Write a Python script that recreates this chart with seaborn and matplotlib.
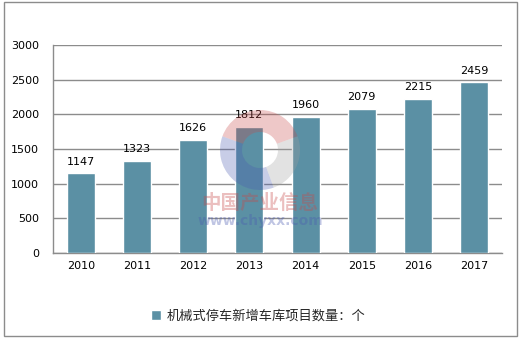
import matplotlib
matplotlib.use("Agg")
import matplotlib.pyplot as plt
import seaborn as sns
import pandas as pd
from matplotlib.patches import Rectangle, Wedge

years = ["2010", "2011", "2012", "2013", "2014", "2015", "2016", "2017"]
values = [1147, 1323, 1626, 1812, 1960, 2079, 2215, 2459]
series_label = "机械式停车新增车库项目数量：个"
yticks = [0, 500, 1000, 1500, 2000, 2500, 3000]

sns.set_style("white")
plt.rcParams['font.family'] = ['DejaVu Sans', 'Noto Sans CJK SC']

bar_color = "#5B90A4"
grid_color = "#8C8C8C"

df = pd.DataFrame({"year": years, "value": values})

fig = plt.figure(figsize=(5.2, 3.39), dpi=100)
ax = fig.add_axes([0.1019, 0.2537, 0.8635, 0.6136])

sns.barplot(data=df, x="year", y="value", color=bar_color, width=0.5,
            saturation=1, label=series_label, ax=ax, zorder=3)

ax.set_ylim(0, 3000)
ax.set_yticks(yticks)
ax.set_xlim(-0.5, len(years) - 0.5)
ax.yaxis.grid(True, color=grid_color, linewidth=1)
ax.set_axisbelow(True)
ax.set_xlabel("")
ax.set_ylabel("")
for s in ["top", "right"]:
    ax.spines[s].set_visible(False)
for s in ["left", "bottom"]:
    ax.spines[s].set_color(grid_color)
    ax.spines[s].set_linewidth(1)
ax.tick_params(axis="both", length=0, labelsize=8, colors="black", pad=6)
ax.tick_params(axis="y", pad=10)

for i, v in enumerate(values):
    ax.annotate(str(v), (i, v), xytext=(0, 5), textcoords="offset points",
                ha="center", va="bottom", fontsize=8, color="black")

# watermark logo (faint)
wax = fig.add_axes([220 / 520, 1 - 190 / 339, 80 / 520, 80 / 339], zorder=5)
wax.set_xlim(-1, 1)
wax.set_ylim(-1, 1)
wax.axis("off")
wax.patch.set_alpha(0)
wax.add_patch(Wedge((0, 0), 1.0, 20, 160, width=0.55, color="#C84A4A", alpha=0.3, lw=0))
wax.add_patch(Wedge((0, 0), 1.0, 160, 290, width=0.55, color="#4A5AB0", alpha=0.3, lw=0))
wax.add_patch(Wedge((0, 0), 1.0, 290, 380, width=0.55, color="#A0A0A0", alpha=0.3, lw=0))

fig.text(0.5, 1 - 203 / 339, "中国产业信息", ha="center", va="center", fontsize=14,
         fontweight="bold", color="#C84A4A", alpha=0.35,
         family=['Noto Sans CJK SC'], zorder=6)
fig.text(0.5, 1 - 221 / 339, "www.chyxx.com", ha="center", va="center", fontsize=10,
         fontweight="bold", color="#4A5AB0", alpha=0.35, zorder=6)

leg = ax.legend(loc="center", bbox_to_anchor=(0.497, 0.068),
                bbox_transform=fig.transFigure, frameon=False,
                handlelength=0.75, handleheight=0.75, handletextpad=0.4,
                prop={"family": ["Noto Sans CJK SC"], "size": 9.5})

fig.patches.append(Rectangle((4 / 520, 1 - 336 / 339), 513 / 520, 334 / 339,
                             transform=fig.transFigure, fill=False,
                             edgecolor=grid_color, linewidth=1))

fig.savefig("out.png", dpi=100)
